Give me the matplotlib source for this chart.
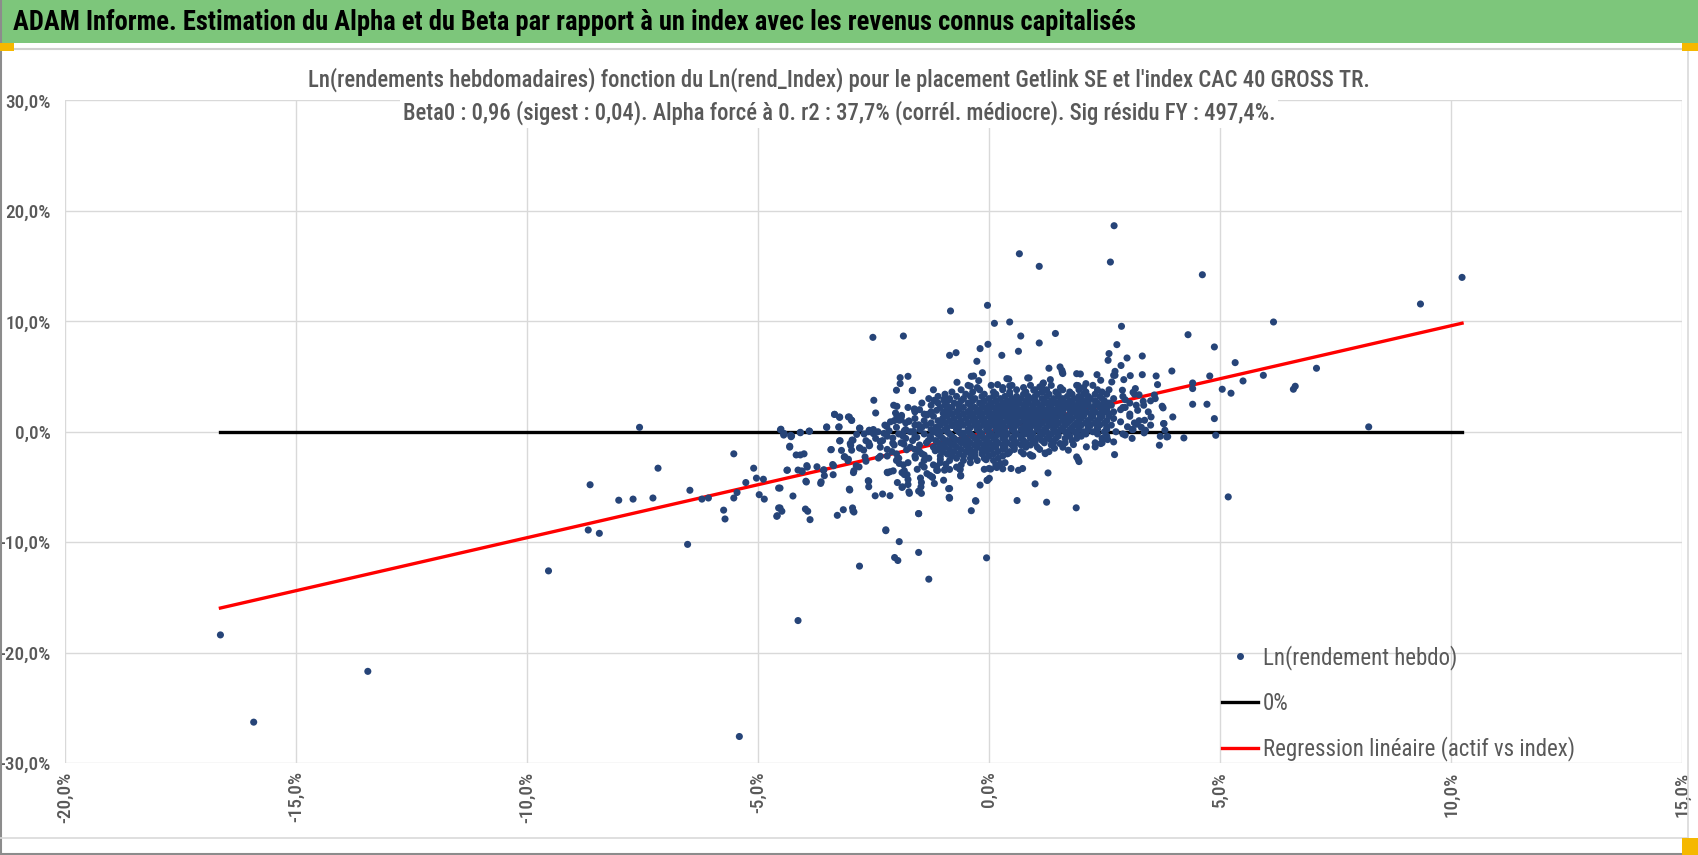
import matplotlib
matplotlib.use('Agg')
import matplotlib.pyplot as plt
import matplotlib.font_manager as fm
from matplotlib.patches import Rectangle
from matplotlib.lines import Line2D
from matplotlib.ticker import FuncFormatter

# ---------------- data (weekly log-returns, in %) ----------------
beta0 = 0.96

tail_pts = [(-16.63, -18.4), (-15.91, -26.3), (-13.44, -21.7), (-9.53, -12.6), (-8.67, -8.9),
            (-8.43, -9.2), (-8.63, -4.8), (-8.01, -6.2), (-7.70, -6.1), (-7.56, 0.4), (-7.27, -6.0),
            (-7.16, -3.3), (-6.52, -10.2), (-6.47, -5.3), (-6.21, -6.1), (-6.07, -6.0), (-5.74, -7.1),
            (-5.71, -7.9), (-5.52, -2.0), (-5.52, -6.0), (-5.45, -5.5), (-5.40, -27.6), (-5.26, -4.6),
            (-5.09, -3.3), (-5.03, -4.2), (-4.97, -5.7), (-4.88, -4.3), (-4.86, -6.1), (-4.58, -7.6),
            (-4.52, -5.1), (-4.52, -6.9), (-4.13, -17.1)]

right_pts = [(8.22, 0.44), (9.34, 11.57), (10.24, 13.98), (6.16, 9.94), (7.09, 5.75), (6.59, 3.85),
             (6.63, 4.12), (5.94, 5.11), (5.5, 4.6), (5.33, 6.26), (5.24, 3.49), (5.05, 3.85),
             (4.88, 7.68), (4.88, 1.19), (4.91, -0.32), (4.78, 5.05), (4.72, 2.49), (4.41, 4.42),
             (4.41, 3.91), (4.41, 2.49), (4.31, 8.79), (4.22, -0.56), (4.62, 14.22), (5.18, -5.9)]

upper_pts = [(0.66, 16.12), (1.09, 14.98), (2.71, 18.66), (2.63, 15.37), (-0.83, 10.94), (-0.03, 11.45),
             (0.12, 9.82), (0.45, 9.94), (-2.51, 8.55), (-1.85, 8.67), (0.69, 8.67), (1.44, 8.9),
             (1.09, 8.04), (-0.02, 7.92), (-0.19, 7.53), (0.28, 6.92), (0.64, 7.29), (-0.85, 6.92),
             (-0.71, 7.16), (-0.26, 6.38), (-0.14, 5.35), (-0.38, 5.02), (-0.33, 5.05), (-0.22, 4.63),
             (-0.69, 4.48), (-0.4, 4.12), (0.19, 4.27), (0.43, 4.78), (0.45, 4.15), (0.87, 4.87),
             (1.3, 5.75), (1.54, 5.87), (1.6, 5.27), (1.9, 5.26), (1.98, 5.23), (2.34, 5.17),
             (-1.92, 4.9), (-1.92, 4.36), (-1.75, 5.02), (-2.0, 3.76), (-1.65, 3.76), (-2.49, 2.85),
             (-2.45, 1.7), (-2.06, 2.4), (-1.99, 2.3), (-2.02, 1.7), (-1.9, 1.34), (-1.94, 1.04),
             (-1.61, 2.07), (-1.73, 0.98), (-1.18, 2.85), (-0.97, 2.95), (-0.88, 2.85), (-1.33, 1.58),
             (-1.13, 1.94), (-3.34, 1.58), (-3.23, 1.34), (-3.04, 1.34), (-2.97, 1.04), (-3.51, 0.44),
             (-3.24, 0.44), (-4.5, 0.23), (-4.43, -0.17), (-4.27, -0.38), (-4.08, -0.05), (-3.88, 0.05),
             (-4.31, -1.31), (-2.79, 0.32), (-2.59, 0.14), (-2.5, -0.17),
             (2.87, 9.55), (2.77, 7.89), (2.6, 7.08), (2.58, 6.47), (2.99, 6.68), (2.86, 6.0),
             (2.73, 5.11), (2.42, 4.66), (3.32, 6.86), (3.06, 5.08), (3.32, 5.17), (3.62, 5.05),
             (3.65, 4.27), (3.96, 5.5), (3.17, 3.91), (3.12, 3.57), (3.58, 3.33), (3.6, 3.0),
             (3.34, 2.76), (3.22, 1.94), (3.19, 2.4), (3.75, 2.31), (3.77, 2.16), (3.51, 1.34),
             (3.37, 1.04), (3.39, 0.14), (3.36, -0.1), (3.79, 0.74), (3.81, 0.14), (3.98, 1.34),
             (3.87, -0.44), (3.71, -0.41), (3.69, -1.22), (2.89, 3.76), (2.57, 2.55), (2.55, 1.94),
             (2.72, -2.07), (2.7, -0.92), (2.55, -0.47), (2.57, -0.71), (2.42, -1.07), (2.3, -1.37),
             (2.11, -1.37), (1.93, -2.49), (1.9, -2.28), (0.92, -2.19), (1.22, -1.98), (1.72, -1.67),
             (2.92, 4.72), (2.66, 4.51), (2.7, 5.11), (2.73, 5.47), (2.1, 4.36), (1.93, 4.18),
             (1.18, 4.42), (1.33, 4.72), (1.59, 5.38), (-1.66, 3.73), (1.58, 5.56), (0.84, 4.87),
             (0.39, 4.81), (1.17, 4.36), (0.97, 3.76), (1.1, 4.06), (2.95, 2.9), (3.05, 1.6),
             (2.85, 0.9), (3.0, 0.45), (2.95, -0.3), (3.25, 3.35), (2.9, 2.2), (3.1, -0.6)]

left_pts = [(-4.59, -7.66), (-4.55, -6.9), (-4.48, -7.2), (-4.55, -5.1), (-4.51, 0.18), (-4.44, -0.3),
            (-4.36, -3.47), (-4.31, -1.39), (-4.28, -0.45), (-4.24, -5.82), (-4.17, -2.1), (-4.08, -2.1),
            (-4.0, -2.0), (-4.13, -3.47), (-4.04, -3.59), (-4.08, -0.09), (-3.95, -4.55), (-3.97, -7.0),
            (-3.92, -7.2), (-3.87, -7.96), (-3.93, -3.2), (-3.89, 0.06), (-3.72, -3.17), (-3.64, -4.68),
            (-3.57, -3.44), (-3.56, -3.98), (-3.51, 0.39), (-3.42, -1.63), (-3.36, -3.08), (-3.37, -3.89),
            (-3.34, 1.57), (-3.28, -7.57), (-3.15, -7.06), (-3.23, 1.3), (-3.25, 0.42), (-3.22, -0.81),
            (-3.19, -1.69), (-3.12, -2.26), (-3.05, -2.62), (-3.02, 1.33), (-2.97, 1.03), (-3.01, -5.28),
            (-2.96, -0.75), (-2.99, -1.24), (-2.95, -6.9), (-2.92, -7.27), (-2.92, -3.53), (-2.87, -3.08),
            (-2.86, -0.24), (-2.79, -1.48), (-2.8, 0.33), (-2.71, -1.66), (-2.66, -0.81), (-2.61, -4.43),
            (-2.6, -4.98), (-2.6, 0.0), (-2.59, -1.27), (-2.46, -5.8), (-2.39, -2.38), (-2.34, -0.87),
            (-2.3, -5.64), (-2.27, -0.15), (-2.23, -8.96), (-2.21, 0.48), (-2.16, 0.09), (-2.19, -3.71),
            (-2.14, -3.62), (-2.14, -5.79), (-2.13, 0.9), (-2.08, -0.57), (-2.08, -1.03), (-1.99, 1.36),
            (-1.97, -2.38), (-1.94, -2.87), (-1.94, -9.95), (-1.9, 1.09), (-1.89, 1.48), (-1.88, -5.04),
            (-1.86, -0.39), (-1.83, 0.09), (-1.84, -1.12), (-1.78, -1.63), (-1.83, -3.53), (-1.77, -3.89),
            (-1.73, 0.94), (-1.72, -5.58), (-1.63, 0.03), (-1.56, -0.51), (-1.61, 1.99), (-1.59, -2.38),
            (-1.52, -1.72), (-1.52, -7.42), (-1.52, 0.63), (-1.49, 0.21), (-1.48, -4.19), (-1.46, -4.59),
            (-1.46, -5.58), (-1.45, -2.99), (-1.4, -2.11), (-1.34, 1.51), (-1.31, -0.81), (-1.27, -0.42),
            (-1.28, -3.95), (-1.22, -4.13), (-1.18, 2.81), (-1.2, -0.03), (-1.1, 0.18), (-1.16, -1.72),
            (-1.09, -1.57), (-1.13, -3.14), (-1.11, -3.5), (-1.05, -0.03), (-1.0, 0.84), (-1.05, -2.5),
            (-0.99, 1.69), (-0.97, 2.84), (-0.95, -0.9), (-0.93, -2.93), (-0.9, 2.8), (-0.87, 2.23),
            (-0.89, -2.02), (-0.86, -5.94), (-0.87, -5.16), (-0.85, -3.41), (-0.84, 1.66), (-0.82, -1.12),
            (-0.79, 0.57), (-0.74, -0.66), (-0.66, 2.5), (-0.64, 2.02), (-0.63, -3.38), (-0.61, -4.01),
            (-0.58, -0.87), (-0.56, -0.12), (-0.38, -7.15), (-0.29, -6.24), (-0.19, -4.83), (-0.06, -2.53),
            (-0.03, -4.4), (0.01, -4.22), (0.04, -3.38)]

lower_pts = [(-2.8, -12.17), (-2.23, -8.88), (-2.04, -11.39), (-1.97, -11.66), (-1.52, -10.93),
             (-1.3, -13.35), (-0.05, -11.42), (-1.52, -7.41), (-0.85, -6.02), (-0.28, -6.29),
             (-0.04, -4.39), (0.61, -6.23), (1.25, -6.38), (1.89, -6.89), (1.0, -4.72), (1.28, -3.73),
             (1.95, -2.7), (3.85, -0.47), (3.2, 0.68), (3.78, 0.74), (3.12, 0.2), (2.45, -1.01),
             (1.83, -1.16), (0.89, -2.07), (0.64, -3.49), (0.73, -3.33), (0.48, -3.33), (0.3, -3.36),
             (0.17, -3.24), (0.25, -2.88), (0.0, -3.33), (0.43, -1.92), (1.22, -1.92), (1.42, -1.49),
             (1.54, -1.07), (-4.37, -3.49), (-4.05, -3.55), (-3.94, -3.07), (-3.96, -4.48),
             (-4.44, -0.17), (-4.29, -0.32), (-3.63, -4.54), (-3.58, -3.49), (-3.41, -1.61),
             (-3.38, -2.97), (-3.02, -5.2), (-3.23, -0.83), (-3.13, -2.28), (-3.04, -2.49),
             (-2.97, -1.67), (-2.93, -3.7), (-2.81, -3.18), (-3.0, -1.07), (-2.94, -0.77),
             (-2.94, -7.17), (-2.8, -1.46), (-2.66, -2.67), (-2.68, -2.28), (-2.6, -4.48),
             (-2.58, -1.22), (-2.35, -0.89), (-2.35, -2.22), (-2.2, -3.67), (-2.07, -3.54),
             (-1.98, -4.6), (-1.88, -3.7), (-1.83, -3.88), (-1.75, -4.33), (-1.75, -4.78),
             (-1.87, -4.99), (-1.73, -5.44), (-1.52, -5.38), (-1.47, -4.99), (-1.34, -3.79),
             (-1.23, -4.09), (-1.18, -4.69), (-1.13, -3.48), (-0.98, -4.39), (-0.96, -3.48),
             (-0.85, -5.14), (-0.62, -3.42), (-0.61, -3.94)]

# dense core of the cloud: rows of y (in %) with the x positions read in each row
core_row_y = [4.2, 3.8, 3.4, 3.0, 2.6, 2.2, 1.8, 1.4, 1.0, 0.6, 0.2, -0.2, -0.6, -1.0,
              -1.4, -1.8, -2.2, -2.6, -3.0, -3.4]
core_row_x = [
    [-0.45, 0.05, 0.5, 0.9, 1.35, 1.9, 2.25],
    [-1.2, -0.6, -0.2, 0.3, 0.6, 1.0, 1.25, 1.6, 1.95, 2.35, 2.6],
    [-0.95, -0.5, -0.1, 0.15, 0.45, 0.75, 1.05, 1.3, 1.5, 1.8, 2.05, 2.3, 2.55, 3.15],
    [-1.3, -0.85, -0.55, -0.3, 0.0, 0.25, 0.5, 0.7, 0.9, 1.15, 1.4, 1.6, 1.85, 2.0, 2.2, 2.45, 2.7],
    [-1.45, -1.1, -0.75, -0.45, -0.2, 0.05, 0.3, 0.5, 0.65, 0.85, 1.05, 1.25, 1.45, 1.65, 1.8, 2.0,
     2.15, 2.35, 2.6, 3.05],
    [-1.75, -1.05, -0.8, -0.55, -0.3, -0.1, 0.1, 0.3, 0.45, 0.6, 0.8, 0.95, 1.1, 1.3, 1.5, 1.65,
     1.85, 2.0, 2.2, 2.4, 2.55, 2.95],
    [-1.6, -1.25, -0.95, -0.7, -0.45, -0.25, -0.05, 0.15, 0.3, 0.5, 0.65, 0.8, 1.0, 1.15, 1.3, 1.45,
     1.6, 1.8, 1.95, 2.1, 2.3, 2.5, 2.7, 3.45],
    [-1.9, -1.2, -0.9, -0.65, -0.4, -0.2, 0.0, 0.15, 0.35, 0.5, 0.7, 0.85, 1.0, 1.2, 1.35, 1.55,
     1.7, 1.9, 2.05, 2.25, 2.45, 2.6, 3.05],
    [-2.05, -1.4, -1.1, -0.85, -0.6, -0.35, -0.15, 0.05, 0.2, 0.4, 0.55, 0.75, 0.9, 1.05, 1.25, 1.4,
     1.6, 1.75, 1.95, 2.15, 2.35, 2.55, 3.25],
    [-2.25, -1.6, -1.35, -1.05, -0.8, -0.55, -0.3, -0.1, 0.1, 0.25, 0.45, 0.6, 0.8, 0.95, 1.1, 1.3,
     1.45, 1.65, 1.85, 2.0, 2.2, 2.4, 2.65, 3.5],
    [-2.5, -1.8, -1.25, -0.95, -0.7, -0.45, -0.25, -0.05, 0.15, 0.3, 0.5, 0.7, 0.85, 1.05, 1.2, 1.4,
     1.55, 1.75, 1.95, 2.15, 2.35, 2.55, 3.1],
    [-2.7, -1.95, -1.4, -1.1, -0.85, -0.6, -0.4, -0.15, 0.05, 0.25, 0.4, 0.6, 0.8, 0.95, 1.15, 1.35,
     1.5, 1.7, 1.9, 2.1, 2.35, 2.9],
    [-2.45, -1.8, -1.25, -1.0, -0.75, -0.5, -0.3, -0.1, 0.1, 0.3, 0.5, 0.7, 0.9, 1.05, 1.25, 1.45,
     1.65, 1.9, 2.45],
    [-2.6, -1.9, -1.35, -1.1, -0.85, -0.6, -0.4, -0.2, 0.0, 0.2, 0.4, 0.6, 0.8, 1.0, 1.2, 1.4, 1.65,
     2.3],
    [-2.35, -1.7, -1.2, -0.95, -0.7, -0.45, -0.25, -0.05, 0.15, 0.35, 0.55, 0.8, 1.05, 1.6],
    [-2.1, -1.5, -1.0, -0.75, -0.5, -0.3, -0.05, 0.2, 0.45, 0.7, 1.3],
    [-2.2, -1.6, -1.05, -0.8, -0.55, -0.3, 0.0, 0.3, 0.95],
    [-2.0, -1.4, -0.85, -0.55, -0.25, 0.1],
    [-1.85, -1.2, -0.6, 0.15],
    [-1.55, -0.95, -0.1],
]

# second, interleaved set of rows in the dense core
core2_row_y = [4.0, 3.6, 3.2, 2.8, 2.4, 2.0, 1.6, 1.2, 0.8, 0.4, 0.0, -0.4, -0.8, -1.2,
               -1.6, -2.0, -2.4, -2.8, -3.2]
core2_row_x = [
    [-0.25, 0.3, 0.75, 1.15, 1.55, 2.05],
    [-0.8, -0.35, 0.1, 0.45, 0.8, 1.15, 1.45, 1.75, 2.1, 2.45],
    [-1.1, -0.7, -0.4, -0.15, 0.1, 0.35, 0.6, 0.85, 1.0, 1.25, 1.5, 1.7, 1.95, 2.15, 2.4, 2.9],
    [-0.95, -0.6, -0.35, -0.1, 0.15, 0.4, 0.6, 0.8, 1.0, 1.2, 1.35, 1.55, 1.75, 1.95, 2.1, 2.3,
     2.5, 3.5],
    [-1.25, -0.95, -0.65, -0.4, -0.15, 0.0, 0.2, 0.4, 0.55, 0.75, 0.95, 1.15, 1.35, 1.55, 1.75,
     1.9, 2.1, 2.3, 2.45, 2.65, 3.35],
    [-1.5, -0.9, -0.65, -0.4, -0.2, 0.0, 0.2, 0.4, 0.55, 0.7, 0.9, 1.05, 1.2, 1.4, 1.55, 1.75,
     1.9, 2.05, 2.25, 2.45, 2.85],
    [-1.4, -0.8, -0.55, -0.35, -0.15, 0.05, 0.25, 0.4, 0.6, 0.75, 0.9, 1.1, 1.25, 1.4, 1.55, 1.75,
     1.9, 2.05, 2.2, 2.4, 2.6],
    [-1.6, -1.0, -0.75, -0.5, -0.3, -0.1, 0.1, 0.25, 0.45, 0.6, 0.8, 0.95, 1.1, 1.3, 1.45, 1.65,
     1.8, 2.0, 2.2, 2.4, 2.7],
    [-1.8, -1.25, -0.95, -0.7, -0.45, -0.25, -0.05, 0.15, 0.3, 0.5, 0.65, 0.85, 1.0, 1.15, 1.35,
     1.5, 1.7, 1.9, 2.1, 2.3, 2.5, 3.15],
    [-2.0, -1.45, -1.15, -0.9, -0.65, -0.4, -0.2, 0.0, 0.2, 0.35, 0.55, 0.75, 0.9, 1.05, 1.25, 1.4,
     1.6, 1.8, 1.95, 2.15, 2.35, 2.55, 3.3],
    [-2.4, -1.7, -1.15, -0.9, -0.65, -0.45, -0.2, 0.0, 0.2, 0.35, 0.55, 0.75, 0.9, 1.1, 1.25, 1.45,
     1.65, 1.85, 2.05, 2.25, 2.5, 2.75],
    [-2.2, -1.6, -1.05, -0.8, -0.55, -0.35, -0.2, 0.0, 0.15, 0.35, 0.55, 0.7, 0.9, 1.1, 1.3, 1.5,
     1.75, 2.0, 2.55],
    [-2.3, -1.65, -1.15, -0.9, -0.65, -0.45, -0.25, -0.05, 0.15, 0.35, 0.55, 0.75, 0.95, 1.15,
     1.35, 1.8],
    [-2.05, -1.5, -1.0, -0.75, -0.5, -0.3, -0.1, 0.1, 0.3, 0.5, 0.7, 0.9, 1.35],
    [-2.2, -1.6, -1.1, -0.85, -0.6, -0.4, -0.15, 0.05, 0.3, 0.55, 1.1],
    [-2.0, -1.45, -0.9, -0.65, -0.4, -0.15, 0.1, 0.4, 0.75],
    [-1.95, -1.3, -0.7, -0.4, -0.1, 0.2],
    [-1.75, -1.05, -0.4, 0.35],
    [-1.4, -0.7],
]

x_ticks = [-20, -15, -10, -5, 0, 5, 10, 15]
y_ticks = [-30, -20, -10, 0, 10, 20, 30]

banner_text = ("ADAM Informe. Estimation du Alpha et du Beta par rapport à un index "
               "avec les revenus connus capitalisés")
title_line1 = ("Ln(rendements hebdomadaires) fonction du Ln(rend_Index) pour le placement "
               "Getlink SE et l'index CAC 40 GROSS TR.")
title_line2 = ("Beta0 : 0,96 (sigest : 0,04). Alpha forcé à 0. r2 : 37,7% (corrél. médiocre). "
               "Sig résidu FY : 497,4%.")
legend_labels = ["Ln(rendement hebdo)", "0%", "Regression linéaire (actif vs index)"]

# ---------------- assemble ----------------
xs, ys = [], []
for group in (tail_pts, right_pts, upper_pts, left_pts, lower_pts):
    for px, py in group:
        xs.append(px)
        ys.append(py)
for rows_y, rows_x in ((core_row_y, core_row_x), (core2_row_y, core2_row_x)):
    for ry, row in zip(rows_y, rows_x):
        for px in row:
            xs.append(px)
            ys.append(ry)

x_min, x_max = min(xs), max(xs)

# ---------------- fonts ----------------
avail = {f.name for f in fm.fontManager.ttflist}
FONT = next((n for n in ['Liberation Sans Narrow', 'Roboto Condensed', 'Open Sans Condensed',
                         'Liberation Sans'] if n in avail), 'DejaVu Sans')
plt.rcParams['font.family'] = [FONT, 'DejaVu Sans']

W, H = 1698, 855
fig = plt.figure(figsize=(W / 100, H / 100), dpi=100)
fig.patch.set_facecolor('white')
renderer = fig.canvas.get_renderer()


def fit_size(text, target_px, **kw):
    t = fig.text(0, 0, text, fontsize=10, **kw)
    w = t.get_window_extent(renderer=renderer).width
    t.remove()
    return 10.0 * target_px / w


GRAY = '#595959'

ax = fig.add_axes([64.7 / W, 1 - 763 / H, (1682 - 64.7) / W, (763 - 100.5) / H])
ax.set_xlim(x_ticks[0], x_ticks[-1])
ax.set_ylim(y_ticks[0], y_ticks[-1])
ax.set_xticks(x_ticks)
ax.set_yticks(y_ticks)
fmt = FuncFormatter(lambda v, p: ("%.1f%%" % v).replace('.', ','))
ax.xaxis.set_major_formatter(fmt)
ax.yaxis.set_major_formatter(fmt)
for s in ax.spines.values():
    s.set_visible(False)
ax.grid(True, color='#D9D9D9', linewidth=1.0)
ax.set_axisbelow(True)

tick_fs = fit_size("30,0%", 45, fontweight='medium')
ax.tick_params(axis='both', length=0, labelcolor=GRAY, labelsize=tick_fs)
for lab in ax.get_xticklabels() + ax.get_yticklabels():
    lab.set_fontweight('medium')
ax.tick_params(axis='x', labelrotation=90, pad=6)
ax.tick_params(axis='y', pad=10)

zero_line, = ax.plot([x_min, x_max], [0, 0], color='black', linewidth=2.4, zorder=2)
reg_line, = ax.plot([x_min, x_max], [beta0 * x_min, beta0 * x_max], color='#FF0000',
                    linewidth=2.4, zorder=2)
sc = ax.scatter(xs, ys, s=26, color='#264478', edgecolors='none', zorder=3)

leg_fs = fit_size(legend_labels[2], 309)
fs_px = leg_fs * 100 / 72
handles = [Line2D([], [], linestyle='none', marker='o', markersize=4, color='#264478'),
           Line2D([], [], color='black', linewidth=2.4),
           Line2D([], [], color='#FF0000', linewidth=2.4)]
leg = ax.legend(handles, legend_labels, loc='upper left', frameon=False,
                bbox_to_anchor=(1222 / W, 1 - 645 / H), bbox_transform=fig.transFigure,
                fontsize=leg_fs, labelcolor=GRAY, borderpad=0, borderaxespad=0,
                handlelength=36 / fs_px, handletextpad=5 / fs_px, labelspacing=0.95)

# ---------------- banner / decorations ----------------
fig.patches.append(Rectangle((0, 1 - 43 / H), 1, 43 / H, transform=fig.transFigure,
                             facecolor='#7DC67B', edgecolor='none', zorder=0))
fig.add_artist(Line2D([0, 1], [1 - 49 / H, 1 - 49 / H], transform=fig.transFigure,
                      color='#D0D0D0', linewidth=1.5))
fig.add_artist(Line2D([1 / W, 1 / W], [0, 1], transform=fig.transFigure,
                      color='#8C8C8C', linewidth=1.5))
fig.add_artist(Line2D([0, 1], [1.5 / H, 1.5 / H], transform=fig.transFigure,
                      color='#8C8C8C', linewidth=1.5))
fig.add_artist(Line2D([0, 1688 / W], [1 - 838 / H, 1 - 838 / H], transform=fig.transFigure,
                      color='#D9D9D9', linewidth=1.2))
fig.add_artist(Line2D([1688 / W, 1688 / W], [1 - 838 / H, 1 - 49 / H], transform=fig.transFigure,
                      color='#D9D9D9', linewidth=1.2))
for (hx, hy, hw, hh) in [(0, 43, 14, 8), (1682, 43, 16, 8), (1682, 838, 16, 17)]:
    fig.patches.append(Rectangle((hx / W, 1 - (hy + hh) / H), hw / W, hh / H,
                                 transform=fig.transFigure, facecolor='#F5B800',
                                 edgecolor='none', zorder=5))

banner_fs = fit_size(banner_text, 1122, fontweight='bold')
fig.text(13 / W, 1 - 22 / H, banner_text, fontsize=banner_fs, fontweight='bold',
         color='black', ha='left', va='center')

title_fs = fit_size(title_line1, 1056, fontweight='medium')
fig.text(839 / W, 1 - 80 / H, title_line1, fontsize=title_fs, color=GRAY, fontweight='medium',
         ha='center', va='center', bbox=dict(facecolor='white', edgecolor='none', pad=2))
fig.text(839 / W, 1 - 113 / H, title_line2, fontsize=title_fs, color=GRAY, fontweight='medium',
         ha='center', va='center', bbox=dict(facecolor='white', edgecolor='none', pad=2))

fig.savefig('out.png', dpi=100)
